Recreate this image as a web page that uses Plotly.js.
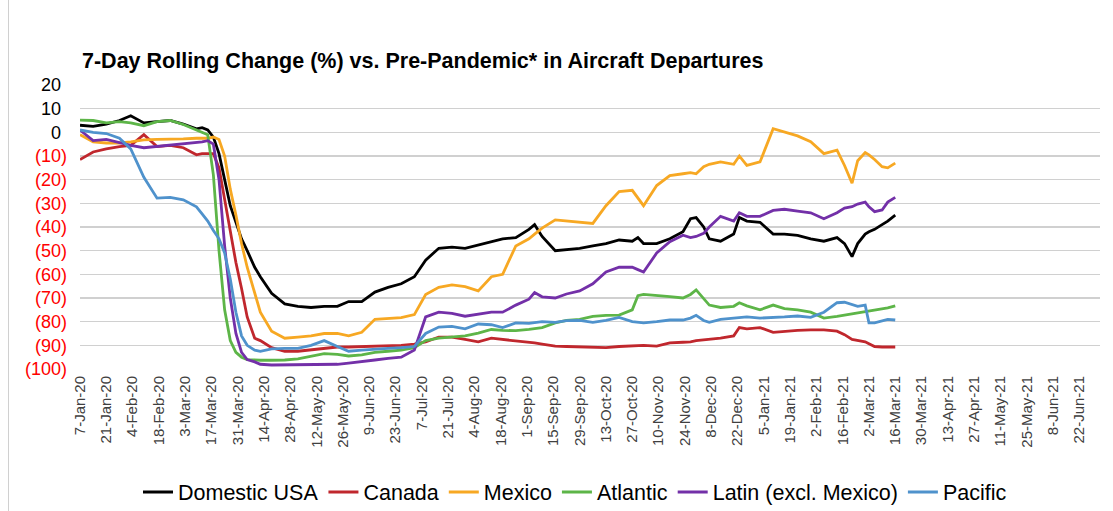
<!DOCTYPE html>
<html>
<head>
<meta charset="utf-8">
<script src="https://cdn.plot.ly/plotly-3.0.1.min.js"></script>
<style>
  html, body { margin: 0; padding: 0; background: #ffffff; }
  #wrap { position: relative; width: 1113px; height: 511px; }
  #chart { width: 1113px; height: 511px; }
  #edge { position: absolute; left: 8px; top: 0; width: 1px; height: 511px; background: #d0d0d0; }
</style>
</head>
<body>
<div id="wrap"><div id="chart"></div><div id="edge"></div></div>
<script>
// ---- Data ----
const dates = [
  '2020-01-07','2020-01-14','2020-01-21','2020-01-28','2020-02-03','2020-02-10','2020-02-17','2020-02-24',
  '2020-03-02','2020-03-09','2020-03-12','2020-03-15','2020-03-18','2020-03-21','2020-03-24','2020-03-27',
  '2020-03-30','2020-04-02','2020-04-05','2020-04-09','2020-04-12','2020-04-18','2020-04-25','2020-05-02',
  '2020-05-09','2020-05-16','2020-05-23','2020-05-29','2020-06-05','2020-06-12','2020-06-19','2020-06-26',
  '2020-07-03','2020-07-09','2020-07-16','2020-07-23','2020-07-30','2020-08-06','2020-08-13','2020-08-19',
  '2020-08-26','2020-09-02','2020-09-05','2020-09-09','2020-09-16','2020-09-22','2020-09-29','2020-10-06',
  '2020-10-13','2020-10-20','2020-10-27','2020-10-30','2020-11-02','2020-11-09','2020-11-16','2020-11-23',
  '2020-11-27','2020-11-30','2020-12-04','2020-12-07','2020-12-13','2020-12-20','2020-12-23','2020-12-27',
  '2021-01-03','2021-01-10','2021-01-16','2021-01-23','2021-01-30','2021-02-06','2021-02-13','2021-02-17',
  '2021-02-21','2021-02-24','2021-02-28','2021-03-02','2021-03-05','2021-03-09','2021-03-12','2021-03-16'
];

const domesticUSA = [
  3, 2.5, 3.5, 5, 7, 4, 4.5, 5,
  3.5, 1.5, 2, 1, -2, -9, -20, -31,
  -38, -45, -50, -57, -61, -68, -72.5, -73.5,
  -74, -73.5, -73.5, -71.5, -71.5, -67.5, -65.5, -64,
  -61, -54, -49, -48.5, -49, -47.5, -46, -45,
  -44.5, -41, -39, -44, -50, -49.5, -49, -48,
  -47, -45.5, -46, -44.5, -47, -47, -45, -42,
  -36.5, -36, -40, -45, -46, -43, -36, -37.5,
  -38, -43, -43, -43.5, -45, -46, -44.5, -47,
  -52.5, -47, -43, -42, -41, -39, -37.5, -35
];

const canada = [
  -11.5, -8.3, -7, -6, -5.5, -1, -6, -5.5,
  -6.5, -9.5, -9, -9, -9, -15, -28, -42,
  -55, -66, -78, -87, -88, -91, -92.5, -92.5,
  -92, -91.3, -90.7, -90.7, -90.5, -90.5, -90.3, -90,
  -89.5, -88.5, -86.5, -86.5, -87.5, -88.5, -87, -87.5,
  -88, -88.5, -89, -89.5, -90.3, -90.5, -90.7, -91,
  -91, -90.5, -90.3, -90, -90, -90.3, -89, -88.7,
  -88.5, -88, -87.7, -87.5, -87, -86, -82.5, -83,
  -82.5, -84.5, -84, -83.7, -83.5, -83.5, -84, -85.5,
  -87.5, -88, -88.5, -89.3, -90.5, -90.7, -90.7, -90.7
];

const mexico = [
  -1, -4, -4.5, -4.5, -4, -3.2, -3, -3,
  -2.8, -2.5, -2.5, -2.5, -2, -3, -10, -24,
  -35, -47, -57, -68, -76, -84, -87, -86.5,
  -86, -85, -85, -86, -84.5, -79, -78.6, -78.3,
  -77, -68.5, -65.5, -64.5, -65.2, -67, -61, -60,
  -48, -45, -43, -40.5, -37, -37.5, -38, -38.5,
  -31, -25, -24.5, -27.5, -31, -22.5, -18.3, -17.5,
  -17, -17.5, -14.5, -13.5, -12.5, -13.5, -10, -14,
  -12.5, 1.5, 0, -1.5, -4, -9, -7.5, -14,
  -21.5, -12, -8.5, -9.5, -11.5, -14.5, -15, -13
];

const atlantic = [
  5.2, 5, 4, 4.5, 4, 2.8, 4.5, 5,
  3.3, 1, 0, -1, -18, -50, -75, -88,
  -93, -95, -96, -96.2, -96.3, -96.3, -96.2, -95.7,
  -94.5, -93.5, -93.8, -94.5, -94, -93, -92.5, -92,
  -91, -88, -87, -86.5, -86, -84.8, -83.3, -83.7,
  -83.8, -83.3, -83, -82.5, -80.5, -79.5, -79, -77.8,
  -77.3, -77.2, -75, -69, -68.5, -68.8, -69.4, -70,
  -68.5, -66.6, -70.5, -73, -74, -73.5, -72, -73.3,
  -75, -73, -74.5, -75, -76, -78.5, -77.8, -77.3,
  -76.8, -76.3, -76, -75.7, -75.3, -74.8, -74.2, -73.3
];

const latinExclMexico = [
  1, -3.5, -3, -4.5, -5.5, -6.5, -6, -5.3,
  -4.7, -4.5, -4, -3.5, -5, -20, -48, -70,
  -85, -93, -96, -97, -98, -98.3, -98.3, -98.3,
  -98.3, -98.2, -98, -97.5, -97, -96.2, -95.5, -95,
  -92, -78, -76, -76.5, -77.7, -77, -76, -76,
  -73, -70.5, -67.7, -69.5, -70, -68.3, -67, -64,
  -59, -57, -57, -58, -59, -51, -46.2, -43.5,
  -44.5, -44, -42.7, -40, -35.5, -37.5, -34, -35.5,
  -35.5, -33, -32.5, -33.3, -34, -36.5, -34, -32,
  -31.4, -30.3, -29.5, -31.5, -33.5, -32.8, -29.5, -27.5
];

const pacific = [
  1, 0, -0.5, -2.5, -7, -19, -27.8, -27.5,
  -28.5, -31.5, -34.5, -37.5, -41.5, -45, -51, -62,
  -76, -86, -90, -92, -92.5, -91.5, -91.3, -91.3,
  -90, -88, -90.5, -92.5, -92, -91.5, -91.3, -91,
  -90.5, -85, -82.3, -82, -83, -81, -81.3, -82.5,
  -80.5, -80.7, -80.3, -80, -80.3, -79.6, -79.5, -80.3,
  -79.5, -78.2, -80, -80.4, -80.5, -80, -79.3, -79.3,
  -78.5, -77.3, -79.5, -80.3, -79, -78.5, -78.2, -78,
  -78.5, -78.3, -78, -77.6, -78.2, -76, -72, -71.8,
  -72.8, -73.5, -73, -80.5, -80.5, -79.6, -79, -79.3
];

const seriesNames = ['Domestic USA', 'Canada', 'Mexico', 'Atlantic', 'Latin (excl. Mexico)', 'Pacific'];
const seriesColors = ['#000000', '#c0272d', '#f7a823', '#5db548', '#7330a8', '#4f92cc'];
const seriesValues = [domesticUSA, canada, mexico, atlantic, latinExclMexico, pacific];

const yTickVals = [20, 10, 0, -10, -20, -30, -40, -50, -60, -70, -80, -90, -100];
const yTickLabels = ['20', '10', '0', '(10)', '(20)', '(30)', '(40)', '(50)', '(60)', '(70)', '(80)', '(90)', '(100)'];

const xStart = '2020-01-07';
const xEnd = '2021-07-03';
const xTickStep = 14; // days between date labels

// ---- Build ----
const traces = seriesValues.map((vals, i) => ({
  type: 'scatter',
  mode: 'lines',
  name: seriesNames[i],
  x: dates,
  y: vals,
  line: { color: seriesColors[i], width: 2.8 },
  hoverinfo: 'x+y+name'
}));

const yTickText = yTickVals.map((v, i) => v < 0
  ? '<span style="color:#ff0000">' + yTickLabels[i] + '</span>'
  : yTickLabels[i] + '<span style="color:#ffffff">)</span>');

const layout = {
  width: 1113,
  height: 511,
  paper_bgcolor: '#ffffff',
  plot_bgcolor: '#ffffff',
  margin: { l: 80, r: 13, t: 85, b: 142, pad: 0 },
  font: { family: 'Liberation Sans, Arial, sans-serif', color: '#000000' },
  title: {
    text: '<b>7-Day Rolling Change (%) vs. Pre-Pandemic* in Aircraft Departures</b>',
    font: { size: 21.5, color: '#000000', family: 'Liberation Sans, Arial, sans-serif' },
    xref: 'container', yref: 'container',
    x: 82 / 1113, xanchor: 'left',
    y: 1 - 60 / 511, yanchor: 'middle'
  },
  xaxis: {
    type: 'date',
    range: [xStart, xEnd],
    tick0: xStart,
    dtick: xTickStep * 86400000,
    tickformat: '%-d-%b-%y',
    tickangle: -90,
    tickfont: { size: 15, color: '#404040' },
    showgrid: false,
    zeroline: false,
    showline: false,
    ticks: '',
    ticklabelstandoff: 3,
    fixedrange: true
  },
  yaxis: {
    range: [-100, 20],
    tickvals: yTickVals,
    ticktext: yTickText,
    tickfont: { size: 18, color: '#000000' },
    showgrid: true,
    gridcolor: '#d0d0d0',
    gridwidth: 1.3,
    zeroline: false,
    showline: false,
    ticks: '',
    ticklabelstandoff: 12,
    fixedrange: true
  },
  showlegend: true,
  legend: {
    orientation: 'h',
    xref: 'container', yref: 'container',
    x: 575 / 1113, xanchor: 'center',
    y: 1 - 492 / 511, yanchor: 'middle',
    font: { size: 21.5, color: '#000000' },
    itemwidth: 30,
    bgcolor: 'rgba(0,0,0,0)'
  }
};

Plotly.newPlot('chart', traces, layout, { displayModeBar: false, staticPlot: true });
</script>
</body>
</html>
